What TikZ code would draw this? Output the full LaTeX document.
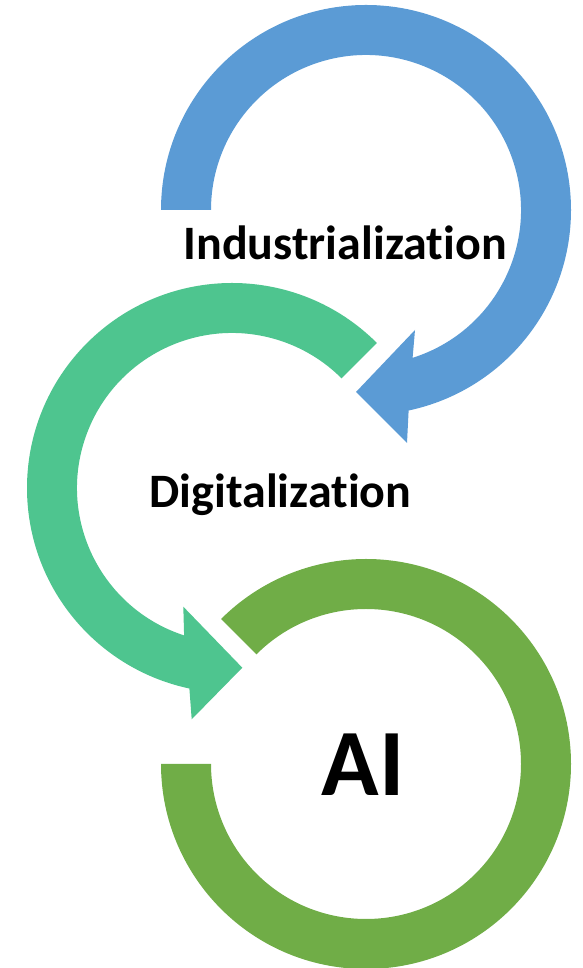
\documentclass[tikz,border=0pt]{standalone}
\usepackage{fontspec}
\setmainfont[RawFeature={-liga;-clig;-calt;-dlig}]{Carlito}
\definecolor{indblue}{HTML}{5B9BD5}
\definecolor{digteal}{HTML}{4EC58F}
\definecolor{aigreen}{HTML}{70AD47}
\tikzset{lbl/.style={font=\bfseries\fontsize{48}{58}\selectfont,anchor=base,inner sep=0pt}}

\begin{document}
\begin{tikzpicture}[x=1pt,y=1pt]
    \useasboundingbox (0,0) rectangle (582,968);
    \coordinate (c1) at (366,758);
    \coordinate (c2) at (232,480);
    \coordinate (c3) at (366,204);
    \fill[indblue] (c1) ++(180:205) arc[start angle=180,end angle=-78,radius=205]
        -- (407,525) -- (356,576) -- (415,638)
        -- ([shift={(c1)}]-72.5:155) arc[start angle=-72.5,end angle=180,radius=155] -- cycle;
    \fill[digteal] (c2) ++(45:205) arc[start angle=45,end angle=258,radius=205]
        -- (191.7,248.7) -- (242.3,300.3) -- (183.3,361.3)
        -- ([shift={(c2)}]252:155) arc[start angle=252,end angle=45,radius=155] -- cycle;
    \fill[aigreen] (c3) ++(180:205) arc[start angle=180,end angle=495,radius=205]
        -- ([shift={(c3)}]135:155) arc[start angle=495,end angle=180,radius=155] -- cycle;
    \node[lbl] (ind) at (345,708) {Industrializat\kern0pt ion};
    \node[lbl] (dig) at (280.5,460) {Digitalizat\kern0pt ion};
    \node[lbl,font=\bfseries\fontsize{95}{114}\selectfont] (ai) at (363,172) {AI};
\end{tikzpicture}
\end{document}
